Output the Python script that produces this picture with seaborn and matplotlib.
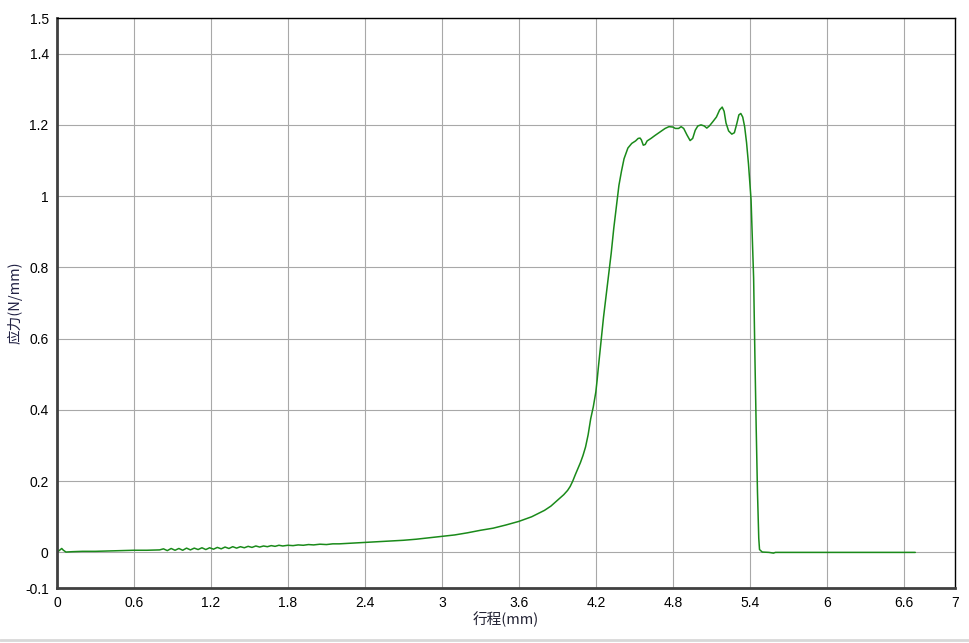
import matplotlib
matplotlib.use("Agg")
import matplotlib.pyplot as plt
import seaborn as sns
import pandas as pd
from matplotlib.lines import Line2D

travel_mm = [
    0.00, 0.02, 0.037, 0.05, 0.07, 0.12, 0.2, 0.3, 0.4, 0.5, 0.6, 0.7, 0.8,
    0.83, 0.86, 0.89, 0.92, 0.95, 0.98, 1.01, 1.04, 1.07, 1.10, 1.13, 1.16,
    1.19, 1.22, 1.25, 1.28, 1.31, 1.34, 1.37, 1.40, 1.43, 1.46, 1.49, 1.52,
    1.55, 1.58, 1.61, 1.64, 1.67, 1.70, 1.73, 1.76, 1.80, 1.84, 1.88, 1.92,
    1.96, 2.0, 2.05, 2.1, 2.15, 2.2, 2.3, 2.4, 2.5, 2.6, 2.7, 2.8, 2.9, 3.0,
    3.1, 3.2, 3.3, 3.4, 3.5, 3.6, 3.7, 3.8, 3.85, 3.9, 3.95, 3.98, 4.0, 4.02,
    4.04, 4.06, 4.08, 4.1, 4.12, 4.14, 4.16, 4.18, 4.2, 4.21, 4.22, 4.24,
    4.26, 4.28, 4.30, 4.32, 4.34, 4.36, 4.38, 4.40, 4.42, 4.45, 4.48, 4.51,
    4.53, 4.545, 4.555, 4.57, 4.585, 4.60, 4.63, 4.66, 4.70, 4.74, 4.77, 4.80,
    4.82, 4.845, 4.865, 4.885, 4.91, 4.935, 4.955, 4.975, 4.995, 5.02, 5.045,
    5.065, 5.085, 5.11, 5.14, 5.165, 5.185, 5.20, 5.215, 5.235, 5.26, 5.28,
    5.30, 5.315, 5.33, 5.345, 5.36, 5.375, 5.39, 5.40, 5.41, 5.42, 5.43, 5.44,
    5.45, 5.46, 5.47, 5.476, 5.497, 5.55, 5.585, 5.60, 6.0, 6.69,
]
stress_n_mm = [
    0.000, 0.006, 0.011, 0.006, 0.001, 0.002, 0.003, 0.003, 0.004, 0.005, 0.006, 0.006, 0.007,
    0.010, 0.005, 0.011, 0.006, 0.011, 0.006, 0.012, 0.007, 0.012, 0.008, 0.013, 0.008,
    0.013, 0.009, 0.014, 0.010, 0.015, 0.011, 0.016, 0.012, 0.016, 0.013, 0.017, 0.014,
    0.018, 0.015, 0.018, 0.016, 0.019, 0.017, 0.020, 0.018, 0.020, 0.019, 0.021, 0.020,
    0.022, 0.021, 0.023, 0.022, 0.024, 0.024, 0.026, 0.028, 0.030, 0.032, 0.034, 0.037, 0.041, 0.045,
    0.049, 0.055, 0.062, 0.068, 0.077, 0.087, 0.100, 0.118, 0.130, 0.146, 0.162, 0.174, 0.185, 0.200,
    0.218, 0.235, 0.252, 0.272, 0.296, 0.33, 0.375, 0.408, 0.45, 0.483, 0.52, 0.59,
    0.66, 0.72, 0.78, 0.84, 0.91, 0.97, 1.03, 1.07, 1.105, 1.135, 1.148, 1.155,
    1.162, 1.163, 1.158, 1.143, 1.145, 1.155, 1.162, 1.170, 1.180, 1.190, 1.195, 1.194,
    1.190, 1.190, 1.195, 1.190, 1.172, 1.156, 1.162, 1.185, 1.197, 1.200, 1.197,
    1.191, 1.197, 1.208, 1.222, 1.242, 1.250, 1.238, 1.205, 1.183, 1.174, 1.178,
    1.205, 1.228, 1.232, 1.222, 1.195, 1.15, 1.09, 1.04, 0.99, 0.88, 0.77, 0.55,
    0.35, 0.17, 0.04, 0.008, 0.001, 0.000, -0.002, 0.000, 0.000, 0.000,
]

x_ticks = [0, 0.6, 1.2, 1.8, 2.4, 3, 3.6, 4.2, 4.8, 5.4, 6, 6.6, 7]
x_tick_labels = ["0", "0.6", "1.2", "1.8", "2.4", "3", "3.6", "4.2", "4.8", "5.4", "6", "6.6", "7"]
y_ticks = [-0.1, 0, 0.2, 0.4, 0.6, 0.8, 1, 1.2, 1.4, 1.5]
y_tick_labels = ["-0.1", "0", "0.2", "0.4", "0.6", "0.8", "1", "1.2", "1.4", "1.5"]

sns.set_style("white")
plt.rcParams['font.family'] = ['Liberation Sans', 'Noto Sans CJK SC', 'DejaVu Sans']

df = pd.DataFrame({"x": travel_mm, "y": stress_n_mm})

fig = plt.figure(figsize=(9.69, 6.43), dpi=100)
ax = fig.add_axes([0.0588, 0.0855, 0.9268, 0.8865])

sns.lineplot(data=df, x="x", y="y", ax=ax, sort=False, estimator=None,
             color="#1a8a1a", linewidth=1.1)

ax.set_xlim(0, 7)
ax.set_ylim(-0.1, 1.5)
ax.set_xticks(x_ticks)
ax.set_xticklabels(x_tick_labels)
ax.set_yticks(y_ticks)
ax.set_yticklabels(y_tick_labels)
ax.tick_params(axis="both", length=0, labelsize=10, colors="black", pad=6)
ax.grid(True, color="#a8a8a8", linewidth=0.8)
ax.set_axisbelow(True)

for side in ["top", "right"]:
    ax.spines[side].set_color("black")
    ax.spines[side].set_linewidth(1.0)
for side in ["left", "bottom"]:
    ax.spines[side].set_color("#404040")
    ax.spines[side].set_linewidth(2.0)

ax.set_xlabel("行程(mm)", fontsize=10.5, color="#222233",
              family=['Noto Sans CJK SC', 'Liberation Sans'], labelpad=1)
ax.set_ylabel("应力(N/mm)", fontsize=10.5, color="#222244",
              family=['Noto Sans CJK SC', 'Liberation Sans'], labelpad=2)

fig.add_artist(Line2D([0, 1], [0.004, 0.004], transform=fig.transFigure,
                      color="#d8d8d8", linewidth=2))

fig.savefig("out.png", dpi=100)
